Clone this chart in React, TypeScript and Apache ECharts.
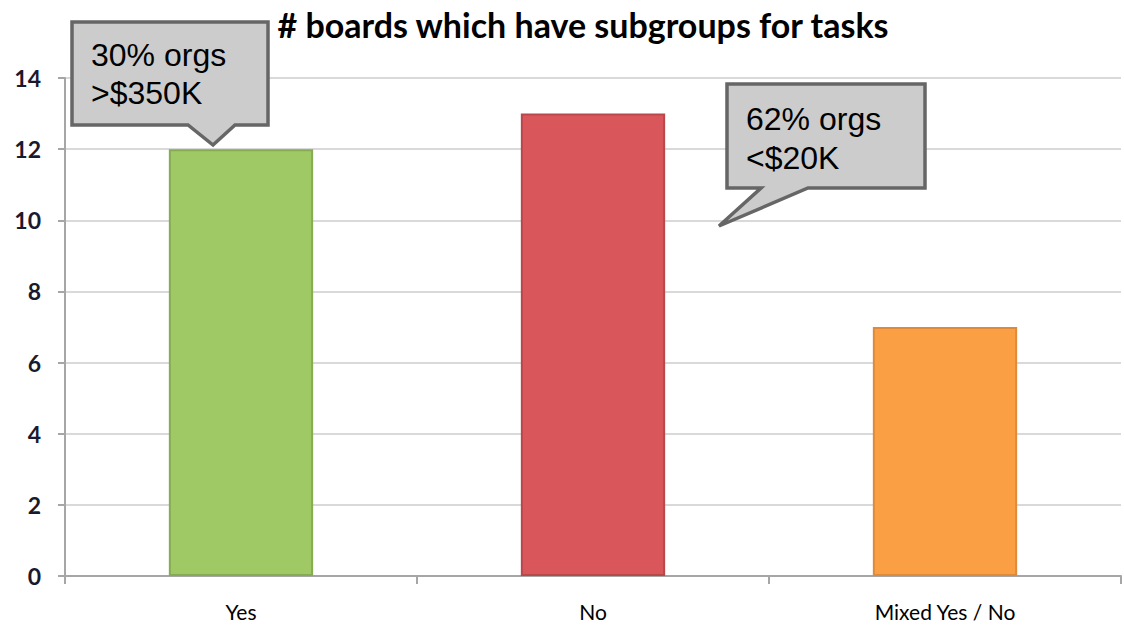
import React, { useEffect, useRef } from "react";
import * as echarts from "echarts";

const categories = ["Yes", "No", "Mixed Yes / No"];
const values = [12, 13, 7];
const barColors = ["#9ec965", "#d9575a", "#fb9f45"];
const barBorders = ["#86ab52", "#b8484a", "#df8a38"];
const yTicks = { min: 0, max: 14, interval: 2 };
const title = "# boards which have subgroups for tasks";
const callout1 = "30% orgs\n>$350K";
const callout2 = "62% orgs\n<$20K";

export default function App() {
  const ref = useRef<HTMLDivElement>(null);
  useEffect(() => {
    const chart = echarts.init(ref.current!, null, { renderer: "svg" });
    chart.setOption({
      animation: false,
      backgroundColor: "#ffffff",
      title: {
        text: title,
        left: 578,
        textAlign: "center",
        top: 2,
        textStyle: { fontFamily: "Lato", fontWeight: "bold", fontSize: 34, color: "#000" },
      },
      grid: { left: 65, right: 3, top: 78, bottom: 50 },
      xAxis: {
        type: "category",
        data: categories,
        boundaryGap: true,
        axisLine: { lineStyle: { color: "#a6a6a6", width: 2 } },
        axisTick: { show: true, length: 8, lineStyle: { color: "#a6a6a6", width: 2 } },
        axisLabel: { fontFamily: "Lato", fontSize: 21, color: "#000", margin: 25 },
      },
      yAxis: {
        type: "value",
        min: yTicks.min,
        max: yTicks.max,
        interval: yTicks.interval,
        axisLine: { show: true, lineStyle: { color: "#a6a6a6", width: 2 } },
        axisTick: { show: true, length: 7, lineStyle: { color: "#a6a6a6", width: 2 } },
        splitLine: { lineStyle: { color: "#d9d9d9", width: 2 } },
        axisLabel: { fontFamily: "Lato", fontSize: 23, fontWeight: "bold", color: "#1a1a2e", margin: 24 },
      },
      series: [
        {
          type: "bar",
          barWidth: "41%",
          data: values.map((v, i) => ({
            value: v,
            itemStyle: { color: barColors[i], borderColor: barBorders[i], borderWidth: 2 },
          })),
        },
      ],
      graphic: [
        {
          type: "polygon",
          z: 100,
          shape: {
            points: [[72, 22], [268, 22], [268, 125], [235, 125], [213, 145], [188, 125], [72, 125]],
          },
          style: { fill: "#cccccc", stroke: "#666666", lineWidth: 3.5, lineJoin: "miter" },
        },
        {
          type: "text",
          z: 101,
          x: 91,
          y: 36,
          style: { text: callout1, font: "32px 'Liberation Sans', Arial, sans-serif", fill: "#000", lineHeight: 38 },
        },
        {
          type: "polygon",
          z: 100,
          shape: {
            points: [[727, 84], [925, 84], [925, 188], [808, 188], [719, 226], [761, 188], [727, 188]],
          },
          style: { fill: "#cccccc", stroke: "#666666", lineWidth: 3.5, lineJoin: "miter" },
        },
        {
          type: "text",
          z: 101,
          x: 746,
          y: 99,
          style: { text: callout2, font: "32px 'Liberation Sans', Arial, sans-serif", fill: "#000", lineHeight: 39 },
        },
      ],
    });
    return () => chart.dispose();
  }, []);
  return (
    <div
      ref={ref}
      style={{ position: "fixed", left: 0, top: 0, width: 1124, height: 626 }}
    />
  );
}
